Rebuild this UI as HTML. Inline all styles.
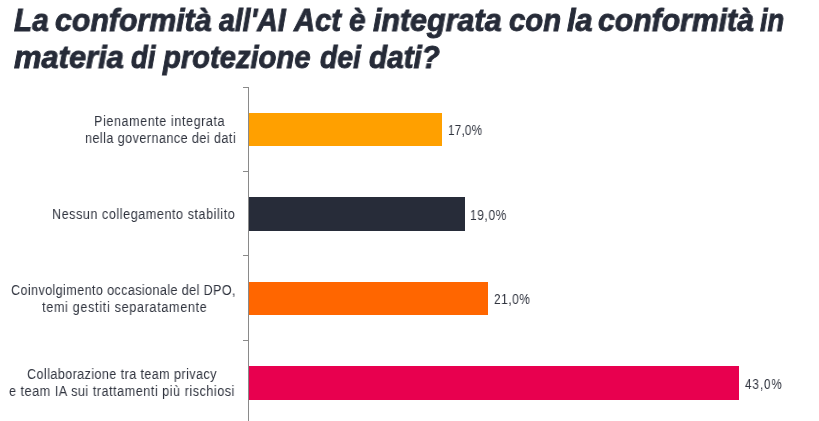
<!DOCTYPE html>
<html lang="it">
<head>
<meta charset="utf-8">
<title>AI Act e protezione dei dati</title>
<style>
html,body{margin:0;padding:0;background:#ffffff;}
body{width:819px;height:421px;position:relative;overflow:hidden;}
.t,.l,.v{position:absolute;white-space:nowrap;transform-origin:0 0;will-change:transform;}
.t{font-family:'Liberation Sans',sans-serif;font-weight:bold;font-style:italic;font-size:31px;line-height:40px;color:#262b38;-webkit-text-stroke:0.9px #262b38;}
.l{font-family:'Liberation Sans',sans-serif;font-size:14px;line-height:17px;color:#30343f;}
.v{font-family:'Liberation Sans',sans-serif;font-size:14px;line-height:17px;color:#30343f;}
.axis{position:absolute;left:248px;top:87px;width:1px;height:334px;background:#8a8a8a;}
.tick{position:absolute;left:243px;width:5px;height:1px;background:#8a8a8a;}
.bar{position:absolute;left:249px;}
</style>
</head>
<body>
<div class="t" style="left:13.90px;top:0.60px;transform:scaleX(0.9583)">La</div>
<div class="t" style="left:54.72px;top:0.60px;transform:scaleX(0.9774)">conformità</div>
<div class="t" style="left:218.50px;top:0.60px;transform:scaleX(0.9149)">all'AI</div>
<div class="t" style="left:293.74px;top:0.60px;transform:scaleX(0.9377)">Act</div>
<div class="t" style="left:348.84px;top:0.60px;transform:scaleX(0.9625)">è</div>
<div class="t" style="left:372.50px;top:0.60px;transform:scaleX(0.9817)">integrata</div>
<div class="t" style="left:509.06px;top:0.60px;transform:scaleX(0.9434)">con</div>
<div class="t" style="left:567.00px;top:0.60px;transform:scaleX(0.9920)">la</div>
<div class="t" style="left:598.03px;top:0.60px;transform:scaleX(0.9730)">conformità</div>
<div class="t" style="left:760.40px;top:0.60px;transform:scaleX(0.8778)">in</div>
<div class="t" style="left:13.90px;top:37.60px;transform:scaleX(0.9955)">materia</div>
<div class="t" style="left:130.80px;top:37.60px;transform:scaleX(0.8828)">di</div>
<div class="t" style="left:163.24px;top:37.60px;transform:scaleX(0.9414)">protezione</div>
<div class="t" style="left:319.60px;top:37.60px;transform:scaleX(0.9109)">dei</div>
<div class="t" style="left:368.80px;top:37.60px;transform:scaleX(0.9568)">dati?</div>
<div class="l" style="left:94.10px;top:113.00px;letter-spacing:0.632px;transform:scaleX(0.9000)">Pienamente integrata</div>
<div class="l" style="left:85.00px;top:130.00px;letter-spacing:0.472px;transform:scaleX(0.9018)">nella governance dei dati</div>
<div class="l" style="left:52.20px;top:206.00px;letter-spacing:0.607px;transform:scaleX(0.9000)">Nessun collegamento stabilito</div>
<div class="l" style="left:10.80px;top:282.00px;letter-spacing:0.418px;transform:scaleX(0.9008)">Coinvolgimento occasionale del DPO,</div>
<div class="l" style="left:41.50px;top:299.00px;letter-spacing:0.738px;transform:scaleX(0.9022)">temi gestiti separatamente</div>
<div class="l" style="left:26.90px;top:366.00px;letter-spacing:0.459px;transform:scaleX(0.8990)">Collaborazione tra team privacy</div>
<div class="l" style="left:9.40px;top:383.00px;letter-spacing:0.585px;transform:scaleX(0.9008)">e team IA sui trattamenti più rischiosi</div>
<div class="v" style="left:447.97px;top:122.00px;letter-spacing:0.294px;transform:scaleX(0.8325)">17,0%</div>
<div class="v" style="left:470.35px;top:207.00px;letter-spacing:0.735px;transform:scaleX(0.8488)">19,0%</div>
<div class="v" style="left:493.56px;top:291.00px;letter-spacing:0.676px;transform:scaleX(0.8439)">21,0%</div>
<div class="v" style="left:745.20px;top:376.00px;letter-spacing:1.074px;transform:scaleX(0.8364)">43,0%</div>

<div class="axis"></div>
<div class="tick" style="top:87px"></div>
<div class="tick" style="top:171px"></div>
<div class="tick" style="top:255px"></div>
<div class="tick" style="top:340px"></div>

<div class="bar" style="top:113px;width:193px;height:33px;background:#ffa000"></div>
<div class="bar" style="top:197px;width:216px;height:34px;background:#272c39"></div>
<div class="bar" style="top:282px;width:239px;height:33px;background:#ff6600"></div>
<div class="bar" style="top:366px;width:490px;height:34px;background:#e8004f"></div>
</body>
</html>
